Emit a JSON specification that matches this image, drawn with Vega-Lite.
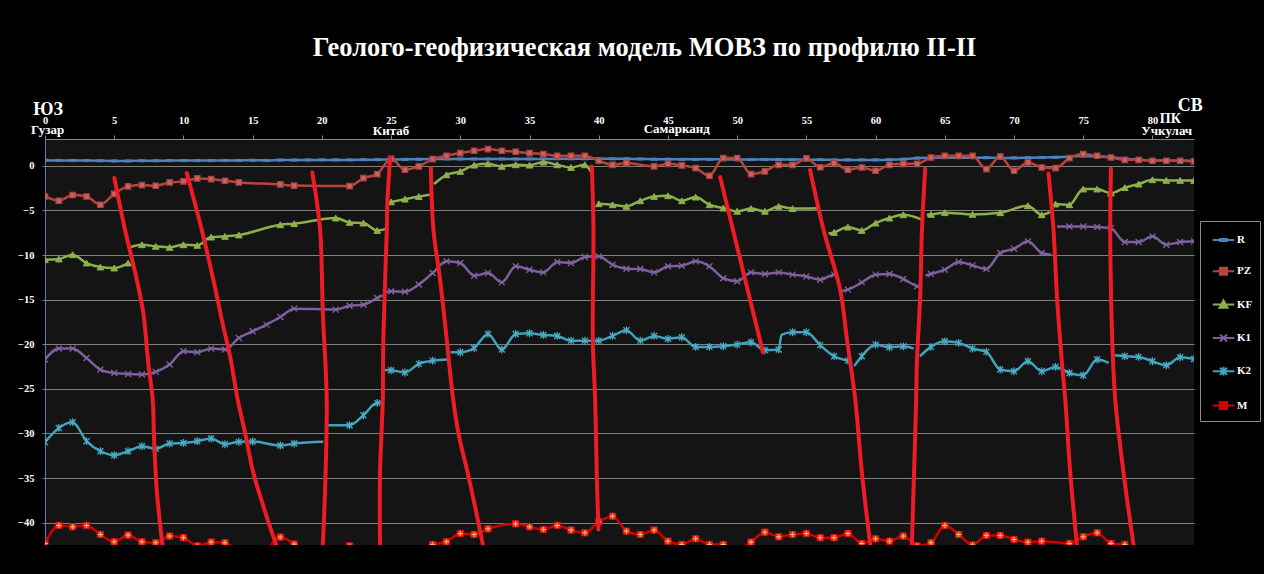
{
  "$schema": "https://vega.github.io/schema/vega-lite/v6.json",
  "width": 1149,
  "height": 406,
  "autosize": {"type": "none"},
  "padding": {"left": 45, "top": 139, "right": 70, "bottom": 29},
  "background": "#000000",
  "title": {
    "text": "Геолого-геофизическая модель МОВЗ по профилю II-II",
    "color": "#FFFFFF",
    "font": "Liberation Serif",
    "fontSize": 26.5,
    "fontWeight": "bold",
    "anchor": "middle",
    "frame": "group",
    "dx": 25,
    "offset": 35
  },
  "config": {
    "view": {"fill": "#141414", "stroke": null},
    "axis": {
      "labelFont": "Liberation Serif",
      "labelFontWeight": "bold",
      "labelColor": "#FFFFFF",
      "labelFontSize": 10.5,
      "labelFlush": false,
      "labelOverlap": false,
      "title": null
    }
  },
  "datasets": {
    "series": [
      {"s":"R","g":1,"x":0,"y":0.62},{"s":"R","g":1,"x":1,"y":0.6},{"s":"R","g":1,"x":2,"y":0.6},{"s":"R","g":1,"x":3,"y":0.58},{"s":"R","g":1,"x":4,"y":0.56},{"s":"R","g":1,"x":5,"y":0.54},{"s":"R","g":1,"x":6,"y":0.54},{"s":"R","g":1,"x":7,"y":0.56},{"s":"R","g":1,"x":8,"y":0.56},{"s":"R","g":1,"x":9,"y":0.58},{"s":"R","g":1,"x":10,"y":0.58},{"s":"R","g":1,"x":11,"y":0.58},{"s":"R","g":1,"x":12,"y":0.58},{"s":"R","g":1,"x":13,"y":0.6},{"s":"R","g":1,"x":14,"y":0.6},{"s":"R","g":1,"x":15,"y":0.62},{"s":"R","g":1,"x":16,"y":0.6},{"s":"R","g":1,"x":17,"y":0.64},{"s":"R","g":1,"x":18,"y":0.64},{"s":"R","g":1,"x":19,"y":0.66},{"s":"R","g":1,"x":20,"y":0.66},{"s":"R","g":1,"x":21,"y":0.66},{"s":"R","g":1,"x":22,"y":0.66},{"s":"R","g":1,"x":23,"y":0.68},{"s":"R","g":1,"x":24,"y":0.68},{"s":"R","g":1,"x":25,"y":0.7},{"s":"R","g":1,"x":26,"y":0.72},{"s":"R","g":1,"x":27,"y":0.74},{"s":"R","g":1,"x":28,"y":0.75},{"s":"R","g":1,"x":29,"y":0.76},{"s":"R","g":1,"x":30,"y":0.76},{"s":"R","g":1,"x":31,"y":0.76},{"s":"R","g":1,"x":32,"y":0.76},{"s":"R","g":1,"x":33,"y":0.76},{"s":"R","g":1,"x":34,"y":0.76},{"s":"R","g":1,"x":35,"y":0.76},{"s":"R","g":1,"x":36,"y":0.76},{"s":"R","g":1,"x":37,"y":0.78},{"s":"R","g":1,"x":38,"y":0.78},{"s":"R","g":1,"x":39,"y":0.78},{"s":"R","g":1,"x":40,"y":0.8},{"s":"R","g":1,"x":41,"y":0.78},{"s":"R","g":1,"x":42,"y":0.78},{"s":"R","g":1,"x":43,"y":0.76},{"s":"R","g":1,"x":44,"y":0.74},{"s":"R","g":1,"x":45,"y":0.74},{"s":"R","g":1,"x":46,"y":0.72},{"s":"R","g":1,"x":47,"y":0.72},{"s":"R","g":1,"x":48,"y":0.72},{"s":"R","g":1,"x":49,"y":0.72},{"s":"R","g":1,"x":50,"y":0.7},{"s":"R","g":1,"x":51,"y":0.7},{"s":"R","g":1,"x":52,"y":0.7},{"s":"R","g":1,"x":53,"y":0.7},{"s":"R","g":1,"x":54,"y":0.7},{"s":"R","g":1,"x":55,"y":0.68},{"s":"R","g":1,"x":56,"y":0.68},{"s":"R","g":1,"x":57,"y":0.66},{"s":"R","g":1,"x":58,"y":0.66},{"s":"R","g":1,"x":59,"y":0.66},{"s":"R","g":1,"x":60,"y":0.66},{"s":"R","g":1,"x":61,"y":0.68},{"s":"R","g":1,"x":62,"y":0.74},{"s":"R","g":1,"x":63,"y":0.86},{"s":"R","g":1,"x":64,"y":0.9},{"s":"R","g":1,"x":65,"y":0.9},{"s":"R","g":1,"x":66,"y":0.9},{"s":"R","g":1,"x":67,"y":0.9},{"s":"R","g":1,"x":68,"y":0.9},{"s":"R","g":1,"x":69,"y":0.88},{"s":"R","g":1,"x":70,"y":0.88},{"s":"R","g":1,"x":71,"y":0.9},{"s":"R","g":1,"x":72,"y":0.92},{"s":"R","g":1,"x":73,"y":0.96},{"s":"R","g":1,"x":74,"y":1.02},{"s":"R","g":1,"x":75,"y":1.1},{"s":"R","g":1,"x":76,"y":1.04},{"s":"R","g":1,"x":77,"y":0.95},{"s":"R","g":1,"x":78,"y":0.8},{"s":"R","g":1,"x":79,"y":0.68},{"s":"R","g":1,"x":80,"y":0.6},{"s":"R","g":1,"x":81,"y":0.58},{"s":"R","g":1,"x":82,"y":0.56},{"s":"R","g":1,"x":83,"y":0.54},

      {"s":"PZ","g":1,"x":0,"y":-3.44},{"s":"PZ","g":1,"x":1,"y":-3.92},{"s":"PZ","g":1,"x":2,"y":-3.28},{"s":"PZ","g":1,"x":3,"y":-3.44},{"s":"PZ","g":1,"x":4,"y":-4.37},{"s":"PZ","g":1,"x":5,"y":-3.14},{"s":"PZ","g":1,"x":6,"y":-2.31},{"s":"PZ","g":1,"x":7,"y":-2.16},{"s":"PZ","g":1,"x":8,"y":-2.24},{"s":"PZ","g":1,"x":9,"y":-1.87},{"s":"PZ","g":1,"x":10,"y":-1.75},{"s":"PZ","g":1,"x":11,"y":-1.42},{"s":"PZ","g":1,"x":12,"y":-1.49},{"s":"PZ","g":1,"x":13,"y":-1.68},{"s":"PZ","g":1,"x":14,"y":-1.87},{"s":"PZ","g":1,"x":17,"y":-2.09},{"s":"PZ","g":1,"x":18,"y":-2.22},{"s":"PZ","g":1,"x":22,"y":-2.28},{"s":"PZ","g":1,"x":23,"y":-1.38},{"s":"PZ","g":1,"x":24,"y":-0.93},{"s":"PZ","g":1,"x":25,"y":0.78},{"s":"PZ","g":1,"x":26,"y":-0.45},{"s":"PZ","g":1,"x":27,"y":-0.07},{"s":"PZ","g":1,"x":28,"y":0.75},{"s":"PZ","g":1,"x":29,"y":1.12},{"s":"PZ","g":1,"x":30,"y":1.42},{"s":"PZ","g":1,"x":31,"y":1.68},{"s":"PZ","g":1,"x":32,"y":1.87},{"s":"PZ","g":1,"x":33,"y":1.68},{"s":"PZ","g":1,"x":34,"y":1.57},{"s":"PZ","g":1,"x":35,"y":1.42},{"s":"PZ","g":1,"x":36,"y":1.31},{"s":"PZ","g":1,"x":37,"y":1.12},{"s":"PZ","g":1,"x":38,"y":1.12},{"s":"PZ","g":1,"x":39,"y":1.12},{"s":"PZ","g":1,"x":40,"y":0.56},{"s":"PZ","g":1,"x":41,"y":0.11},{"s":"PZ","g":1,"x":42,"y":0.3},{"s":"PZ","g":1,"x":44,"y":-0.07},{"s":"PZ","g":1,"x":45,"y":0.22},{"s":"PZ","g":1,"x":46,"y":0.04},{"s":"PZ","g":1,"x":47,"y":-0.26},{"s":"PZ","g":1,"x":48,"y":-1.12},{"s":"PZ","g":1,"x":49,"y":0.86},{"s":"PZ","g":1,"x":50,"y":0.86},{"s":"PZ","g":1,"x":51,"y":-0.93},{"s":"PZ","g":1,"x":52,"y":-0.63},{"s":"PZ","g":1,"x":53,"y":0.11},{"s":"PZ","g":1,"x":54,"y":0.11},{"s":"PZ","g":1,"x":55,"y":0.82},{"s":"PZ","g":1,"x":56,"y":-0.17},{"s":"PZ","g":1,"x":57,"y":0.3},{"s":"PZ","g":1,"x":58,"y":-0.45},{"s":"PZ","g":1,"x":59,"y":-0.19},{"s":"PZ","g":1,"x":60,"y":-0.56},{"s":"PZ","g":1,"x":61,"y":0.11},{"s":"PZ","g":1,"x":62,"y":0.22},{"s":"PZ","g":1,"x":63,"y":0.22},{"s":"PZ","g":1,"x":64,"y":0.93},{"s":"PZ","g":1,"x":65,"y":1.12},{"s":"PZ","g":1,"x":66,"y":1.12},{"s":"PZ","g":1,"x":67,"y":1.12},{"s":"PZ","g":1,"x":68,"y":-0.37},{"s":"PZ","g":1,"x":69,"y":1.04},{"s":"PZ","g":1,"x":70,"y":-0.56},{"s":"PZ","g":1,"x":71,"y":0.37},{"s":"PZ","g":1,"x":72,"y":-0.19},{"s":"PZ","g":1,"x":73,"y":-0.26},{"s":"PZ","g":1,"x":74,"y":0.86},{"s":"PZ","g":1,"x":75,"y":1.31},{"s":"PZ","g":1,"x":76,"y":1.12},{"s":"PZ","g":1,"x":77,"y":0.93},{"s":"PZ","g":1,"x":78,"y":0.67},{"s":"PZ","g":1,"x":79,"y":0.67},{"s":"PZ","g":1,"x":80,"y":0.56},{"s":"PZ","g":1,"x":81,"y":0.56},{"s":"PZ","g":1,"x":82,"y":0.56},{"s":"PZ","g":1,"x":83,"y":0.49},

      {"s":"KF","g":1,"x":0,"y":-10.53},{"s":"KF","g":1,"x":1,"y":-10.45},{"s":"KF","g":1,"x":2,"y":-9.97},{"s":"KF","g":1,"x":3,"y":-10.9},{"s":"KF","g":1,"x":4,"y":-11.35},{"s":"KF","g":1,"x":5,"y":-11.46},{"s":"KF","g":1,"x":6,"y":-10.9},
      {"s":"KF","g":2,"x":6.2,"y":-9.1},{"s":"KF","g":2,"x":7,"y":-8.85},{"s":"KF","g":2,"x":8,"y":-9.03},{"s":"KF","g":2,"x":9,"y":-9.14},{"s":"KF","g":2,"x":10,"y":-8.85},{"s":"KF","g":2,"x":11,"y":-8.92},{"s":"KF","g":2,"x":12,"y":-7.99},{"s":"KF","g":2,"x":13,"y":-7.91},{"s":"KF","g":2,"x":14,"y":-7.76},{"s":"KF","g":2,"x":17,"y":-6.61},{"s":"KF","g":2,"x":18,"y":-6.49},{"s":"KF","g":2,"x":21,"y":-5.86},{"s":"KF","g":2,"x":22,"y":-6.35},{"s":"KF","g":2,"x":23,"y":-6.42},{"s":"KF","g":2,"x":24,"y":-7.25},{"s":"KF","g":2,"x":24.6,"y":-7.1},
      {"s":"KF","g":3,"x":25,"y":-4.05},{"s":"KF","g":3,"x":26,"y":-3.74},{"s":"KF","g":3,"x":27,"y":-3.45},{"s":"KF","g":3,"x":27.8,"y":-3.25},
      {"s":"KF","g":4,"x":28.1,"y":-2.05},{"s":"KF","g":4,"x":29,"y":-1.01},{"s":"KF","g":4,"x":30,"y":-0.63},{"s":"KF","g":4,"x":31,"y":0.07},{"s":"KF","g":4,"x":32,"y":0.22},{"s":"KF","g":4,"x":33,"y":-0.07},{"s":"KF","g":4,"x":34,"y":0.11},{"s":"KF","g":4,"x":35,"y":0.07},{"s":"KF","g":4,"x":36,"y":0.41},{"s":"KF","g":4,"x":37,"y":0.11},{"s":"KF","g":4,"x":38,"y":-0.19},{"s":"KF","g":4,"x":39,"y":0.11},{"s":"KF","g":4,"x":39.45,"y":-0.7},
      {"s":"KF","g":5,"x":40,"y":-4.26},{"s":"KF","g":5,"x":41,"y":-4.37},{"s":"KF","g":5,"x":42,"y":-4.55},{"s":"KF","g":5,"x":43,"y":-3.92},{"s":"KF","g":5,"x":44,"y":-3.44},{"s":"KF","g":5,"x":45,"y":-3.36},{"s":"KF","g":5,"x":46,"y":-3.92},{"s":"KF","g":5,"x":47,"y":-3.51},{"s":"KF","g":5,"x":48,"y":-4.37},{"s":"KF","g":5,"x":49,"y":-4.74},{"s":"KF","g":5,"x":50,"y":-5.1},{"s":"KF","g":5,"x":51,"y":-4.8},{"s":"KF","g":5,"x":52,"y":-5.1},{"s":"KF","g":5,"x":53,"y":-4.55},{"s":"KF","g":5,"x":54,"y":-4.8},{"s":"KF","g":5,"x":55.8,"y":-4.75},
      {"s":"KF","g":6,"x":56.6,"y":-7.6},{"s":"KF","g":6,"x":57,"y":-7.47},{"s":"KF","g":6,"x":58,"y":-6.87},{"s":"KF","g":6,"x":59,"y":-7.25},{"s":"KF","g":6,"x":60,"y":-6.42},{"s":"KF","g":6,"x":61,"y":-5.86},{"s":"KF","g":6,"x":62,"y":-5.49},{"s":"KF","g":6,"x":63.3,"y":-6.0},
      {"s":"KF","g":7,"x":63.7,"y":-5.5},{"s":"KF","g":7,"x":64,"y":-5.45},{"s":"KF","g":7,"x":65,"y":-5.26},{"s":"KF","g":7,"x":67,"y":-5.45},{"s":"KF","g":7,"x":69,"y":-5.26},{"s":"KF","g":7,"x":71,"y":-4.48},{"s":"KF","g":7,"x":72,"y":-5.49},{"s":"KF","g":7,"x":72.6,"y":-5.2},
      {"s":"KF","g":8,"x":72.9,"y":-4.3},{"s":"KF","g":8,"x":73,"y":-4.29},{"s":"KF","g":8,"x":74,"y":-4.37},{"s":"KF","g":8,"x":75,"y":-2.61},{"s":"KF","g":8,"x":76,"y":-2.61},{"s":"KF","g":8,"x":77,"y":-3.06},{"s":"KF","g":8,"x":78,"y":-2.45},{"s":"KF","g":8,"x":79,"y":-2.05},{"s":"KF","g":8,"x":80,"y":-1.57},{"s":"KF","g":8,"x":81,"y":-1.64},{"s":"KF","g":8,"x":82,"y":-1.64},{"s":"KF","g":8,"x":83,"y":-1.64},

      {"s":"K1","g":1,"x":0,"y":-21.72},{"s":"K1","g":1,"x":1,"y":-20.49},{"s":"K1","g":1,"x":2,"y":-20.49},{"s":"K1","g":1,"x":3,"y":-21.54},{"s":"K1","g":1,"x":4,"y":-22.84},{"s":"K1","g":1,"x":5,"y":-23.22},{"s":"K1","g":1,"x":6,"y":-23.33},{"s":"K1","g":1,"x":7,"y":-23.4},{"s":"K1","g":1,"x":8,"y":-23.1},{"s":"K1","g":1,"x":9,"y":-22.28},{"s":"K1","g":1,"x":10,"y":-20.79},{"s":"K1","g":1,"x":11,"y":-20.9},{"s":"K1","g":1,"x":12,"y":-20.49},{"s":"K1","g":1,"x":13,"y":-20.6},{"s":"K1","g":1,"x":14,"y":-19.3},{"s":"K1","g":1,"x":15,"y":-18.55},{"s":"K1","g":1,"x":16,"y":-17.8},{"s":"K1","g":1,"x":17,"y":-16.95},{"s":"K1","g":1,"x":18,"y":-16.01},{"s":"K1","g":1,"x":21,"y":-16.12},{"s":"K1","g":1,"x":22,"y":-15.68},{"s":"K1","g":1,"x":23,"y":-15.57},{"s":"K1","g":1,"x":24,"y":-14.82},{"s":"K1","g":1,"x":24.4,"y":-14.5},
      {"s":"K1","g":2,"x":24.6,"y":-14.15},{"s":"K1","g":2,"x":25,"y":-14.07},{"s":"K1","g":2,"x":26,"y":-14.12},{"s":"K1","g":2,"x":27,"y":-13.3},{"s":"K1","g":2,"x":28,"y":-12.02},{"s":"K1","g":2,"x":29,"y":-10.71},{"s":"K1","g":2,"x":30,"y":-10.9},{"s":"K1","g":2,"x":31,"y":-12.32},{"s":"K1","g":2,"x":32,"y":-12.02},{"s":"K1","g":2,"x":33,"y":-13.07},{"s":"K1","g":2,"x":34,"y":-11.27},{"s":"K1","g":2,"x":35,"y":-11.65},{"s":"K1","g":2,"x":36,"y":-11.95},{"s":"K1","g":2,"x":37,"y":-10.79},{"s":"K1","g":2,"x":38,"y":-10.9},{"s":"K1","g":2,"x":39,"y":-10.23},{"s":"K1","g":2,"x":40,"y":-10.15},{"s":"K1","g":2,"x":41,"y":-11.09},{"s":"K1","g":2,"x":42,"y":-11.54},{"s":"K1","g":2,"x":43,"y":-11.57},{"s":"K1","g":2,"x":44,"y":-11.95},{"s":"K1","g":2,"x":45,"y":-11.27},{"s":"K1","g":2,"x":46,"y":-11.2},{"s":"K1","g":2,"x":47,"y":-10.71},{"s":"K1","g":2,"x":48,"y":-11.27},{"s":"K1","g":2,"x":49,"y":-12.6},{"s":"K1","g":2,"x":50,"y":-12.95},{"s":"K1","g":2,"x":51,"y":-11.95},{"s":"K1","g":2,"x":52,"y":-12.13},{"s":"K1","g":2,"x":53,"y":-11.95},{"s":"K1","g":2,"x":54,"y":-12.2},{"s":"K1","g":2,"x":55,"y":-12.4},{"s":"K1","g":2,"x":56,"y":-12.77},{"s":"K1","g":2,"x":57,"y":-12.2},{"s":"K1","g":2,"x":57.2,"y":-12.3},
      {"s":"K1","g":3,"x":57.5,"y":-14.05},{"s":"K1","g":3,"x":58,"y":-13.88},{"s":"K1","g":3,"x":59,"y":-13.07},{"s":"K1","g":3,"x":60,"y":-12.2},{"s":"K1","g":3,"x":61,"y":-12.13},{"s":"K1","g":3,"x":62,"y":-12.69},{"s":"K1","g":3,"x":63,"y":-13.51},{"s":"K1","g":3,"x":63.15,"y":-13.6},
      {"s":"K1","g":4,"x":63.6,"y":-12.3},{"s":"K1","g":4,"x":64,"y":-12.13},{"s":"K1","g":4,"x":65,"y":-11.65},{"s":"K1","g":4,"x":66,"y":-10.79},{"s":"K1","g":4,"x":67,"y":-11.16},{"s":"K1","g":4,"x":68,"y":-11.57},{"s":"K1","g":4,"x":69,"y":-9.78},{"s":"K1","g":4,"x":70,"y":-9.3},{"s":"K1","g":4,"x":71,"y":-8.47},{"s":"K1","g":4,"x":72,"y":-9.78},{"s":"K1","g":4,"x":72.7,"y":-9.97},
      {"s":"K1","g":5,"x":73.1,"y":-6.8},{"s":"K1","g":5,"x":74,"y":-6.8},{"s":"K1","g":5,"x":75,"y":-6.8},{"s":"K1","g":5,"x":76,"y":-6.87},{"s":"K1","g":5,"x":77,"y":-6.99},{"s":"K1","g":5,"x":78,"y":-8.55},{"s":"K1","g":5,"x":79,"y":-8.55},{"s":"K1","g":5,"x":80,"y":-7.91},{"s":"K1","g":5,"x":81,"y":-8.85},{"s":"K1","g":5,"x":82,"y":-8.55},{"s":"K1","g":5,"x":83,"y":-8.47},

      {"s":"K2","g":1,"x":0,"y":-30.98},{"s":"K2","g":1,"x":1,"y":-29.38},{"s":"K2","g":1,"x":2,"y":-28.74},{"s":"K2","g":1,"x":3,"y":-30.87},{"s":"K2","g":1,"x":4,"y":-31.99},{"s":"K2","g":1,"x":5,"y":-32.44},{"s":"K2","g":1,"x":6,"y":-31.99},{"s":"K2","g":1,"x":7,"y":-31.43},{"s":"K2","g":1,"x":8,"y":-31.73},{"s":"K2","g":1,"x":9,"y":-31.13},{"s":"K2","g":1,"x":10,"y":-31.06},{"s":"K2","g":1,"x":11,"y":-30.87},{"s":"K2","g":1,"x":12,"y":-30.57},{"s":"K2","g":1,"x":13,"y":-31.21},{"s":"K2","g":1,"x":14,"y":-30.94},{"s":"K2","g":1,"x":15,"y":-30.9},{"s":"K2","g":1,"x":17,"y":-31.35},{"s":"K2","g":1,"x":18,"y":-31.13},{"s":"K2","g":1,"x":20.1,"y":-30.94},
      {"s":"K2","g":2,"x":20.4,"y":-29.08},{"s":"K2","g":2,"x":22,"y":-29.08},{"s":"K2","g":2,"x":23,"y":-27.96},{"s":"K2","g":2,"x":24,"y":-26.57},{"s":"K2","g":2,"x":24.3,"y":-26.57},
      {"s":"K2","g":3,"x":24.5,"y":-22.9},{"s":"K2","g":3,"x":25,"y":-22.92},{"s":"K2","g":3,"x":26,"y":-23.17},{"s":"K2","g":3,"x":27,"y":-22.2},{"s":"K2","g":3,"x":28,"y":-21.84},{"s":"K2","g":3,"x":29.1,"y":-21.7},
      {"s":"K2","g":4,"x":29.3,"y":-20.9},{"s":"K2","g":4,"x":30,"y":-20.9},{"s":"K2","g":4,"x":31,"y":-20.42},{"s":"K2","g":4,"x":32,"y":-18.85},{"s":"K2","g":4,"x":33,"y":-20.6},{"s":"K2","g":4,"x":34,"y":-18.85},{"s":"K2","g":4,"x":35,"y":-18.77},{"s":"K2","g":4,"x":36,"y":-18.96},{"s":"K2","g":4,"x":37,"y":-19.07},{"s":"K2","g":4,"x":38,"y":-19.6},{"s":"K2","g":4,"x":39,"y":-19.6},{"s":"K2","g":4,"x":40,"y":-19.6},{"s":"K2","g":4,"x":41,"y":-19.07},{"s":"K2","g":4,"x":42,"y":-18.44},{"s":"K2","g":4,"x":43,"y":-19.6},{"s":"K2","g":4,"x":44,"y":-19.07},{"s":"K2","g":4,"x":45,"y":-19.4},{"s":"K2","g":4,"x":46,"y":-19.22},{"s":"K2","g":4,"x":47,"y":-20.3},{"s":"K2","g":4,"x":48,"y":-20.3},{"s":"K2","g":4,"x":49,"y":-20.23},{"s":"K2","g":4,"x":50,"y":-20.04},{"s":"K2","g":4,"x":51,"y":-19.78},{"s":"K2","g":4,"x":52,"y":-20.68},{"s":"K2","g":4,"x":53,"y":-20.6},{"s":"K2","g":4,"x":53.2,"y":-18.95},{"s":"K2","g":4,"x":54,"y":-18.66},{"s":"K2","g":4,"x":55,"y":-18.66},{"s":"K2","g":4,"x":56,"y":-20.1},{"s":"K2","g":4,"x":57,"y":-21.35},{"s":"K2","g":4,"x":58,"y":-21.84},{"s":"K2","g":4,"x":58.2,"y":-21.9},
      {"s":"K2","g":5,"x":58.45,"y":-22.45},{"s":"K2","g":5,"x":59,"y":-21.35},{"s":"K2","g":5,"x":60,"y":-20.04},{"s":"K2","g":5,"x":61,"y":-20.34},{"s":"K2","g":5,"x":62,"y":-20.23},{"s":"K2","g":5,"x":62.75,"y":-20.49},
      {"s":"K2","g":6,"x":63.2,"y":-21.35},{"s":"K2","g":6,"x":64,"y":-20.3},{"s":"K2","g":6,"x":65,"y":-19.67},{"s":"K2","g":6,"x":66,"y":-19.85},{"s":"K2","g":6,"x":67,"y":-20.49},{"s":"K2","g":6,"x":68,"y":-20.86},{"s":"K2","g":6,"x":69,"y":-22.84},{"s":"K2","g":6,"x":70,"y":-23.03},{"s":"K2","g":6,"x":71,"y":-21.91},{"s":"K2","g":6,"x":72,"y":-23.03},{"s":"K2","g":6,"x":73,"y":-22.54},{"s":"K2","g":6,"x":74,"y":-23.22},{"s":"K2","g":6,"x":75,"y":-23.48},{"s":"K2","g":6,"x":76,"y":-21.72},{"s":"K2","g":6,"x":76.85,"y":-22.1},
      {"s":"K2","g":7,"x":77.3,"y":-21.24},{"s":"K2","g":7,"x":78,"y":-21.35},{"s":"K2","g":7,"x":79,"y":-21.42},{"s":"K2","g":7,"x":80,"y":-21.91},{"s":"K2","g":7,"x":81,"y":-22.36},{"s":"K2","g":7,"x":82,"y":-21.46},{"s":"K2","g":7,"x":83,"y":-21.65},

      {"s":"M","g":1,"x":0,"y":-42.33},{"s":"M","g":1,"x":1,"y":-40.31},{"s":"M","g":1,"x":2,"y":-40.46},{"s":"M","g":1,"x":3,"y":-40.31},{"s":"M","g":1,"x":4,"y":-41.32},{"s":"M","g":1,"x":5,"y":-42.14},{"s":"M","g":1,"x":6,"y":-41.39},{"s":"M","g":1,"x":7,"y":-42.14},{"s":"M","g":1,"x":8,"y":-42.25},{"s":"M","g":1,"x":9,"y":-41.5},{"s":"M","g":1,"x":10,"y":-41.68},{"s":"M","g":1,"x":11,"y":-42.6},{"s":"M","g":1,"x":12,"y":-42.18},{"s":"M","g":1,"x":13,"y":-42.25},{"s":"M","g":1,"x":14,"y":-43.2},{"s":"M","g":1,"x":15,"y":-43.5},{"s":"M","g":1,"x":16,"y":-43.0},{"s":"M","g":1,"x":17,"y":-41.61},{"s":"M","g":1,"x":18,"y":-42.4},{"s":"M","g":1,"x":19,"y":-43.3},{"s":"M","g":1,"x":20,"y":-43.6},{"s":"M","g":1,"x":21,"y":-43.2},{"s":"M","g":1,"x":22,"y":-42.6},{"s":"M","g":1,"x":23,"y":-43.3},{"s":"M","g":1,"x":24,"y":-43.6},{"s":"M","g":1,"x":25,"y":-43.5},{"s":"M","g":1,"x":26,"y":-43.4},{"s":"M","g":1,"x":27,"y":-43.0},{"s":"M","g":1,"x":28,"y":-42.44},{"s":"M","g":1,"x":29,"y":-42.14},{"s":"M","g":1,"x":30,"y":-41.21},{"s":"M","g":1,"x":31,"y":-41.32},{"s":"M","g":1,"x":32,"y":-40.69},{"s":"M","g":1,"x":34,"y":-40.13},{"s":"M","g":1,"x":35,"y":-40.46},{"s":"M","g":1,"x":36,"y":-40.76},{"s":"M","g":1,"x":37,"y":-40.31},{"s":"M","g":1,"x":38,"y":-40.83},{"s":"M","g":1,"x":39,"y":-41.13},{"s":"M","g":1,"x":40,"y":-39.9},{"s":"M","g":1,"x":41,"y":-39.27},{"s":"M","g":1,"x":42,"y":-40.94},{"s":"M","g":1,"x":43,"y":-41.32},{"s":"M","g":1,"x":44,"y":-40.83},{"s":"M","g":1,"x":45,"y":-42.07},{"s":"M","g":1,"x":46,"y":-42.44},{"s":"M","g":1,"x":47,"y":-41.8},{"s":"M","g":1,"x":48,"y":-42.44},{"s":"M","g":1,"x":49,"y":-42.44},{"s":"M","g":1,"x":50,"y":-43.0},{"s":"M","g":1,"x":51,"y":-42.18},{"s":"M","g":1,"x":52,"y":-41.06},{"s":"M","g":1,"x":53,"y":-41.58},{"s":"M","g":1,"x":54,"y":-41.32},{"s":"M","g":1,"x":55,"y":-41.21},{"s":"M","g":1,"x":56,"y":-41.68},{"s":"M","g":1,"x":57,"y":-41.68},{"s":"M","g":1,"x":58,"y":-41.21},{"s":"M","g":1,"x":59,"y":-42.33},{"s":"M","g":1,"x":60,"y":-41.8},{"s":"M","g":1,"x":61,"y":-42.07},{"s":"M","g":1,"x":62,"y":-41.5},{"s":"M","g":1,"x":63,"y":-42.6},{"s":"M","g":1,"x":64,"y":-42.25},{"s":"M","g":1,"x":65,"y":-40.31},{"s":"M","g":1,"x":66,"y":-41.32},{"s":"M","g":1,"x":67,"y":-42.5},{"s":"M","g":1,"x":68,"y":-41.43},{"s":"M","g":1,"x":69,"y":-41.43},{"s":"M","g":1,"x":70,"y":-41.88},{"s":"M","g":1,"x":71,"y":-42.18},{"s":"M","g":1,"x":72,"y":-42.07},{"s":"M","g":1,"x":74,"y":-42.33},{"s":"M","g":1,"x":75,"y":-41.58},{"s":"M","g":1,"x":76,"y":-41.13},{"s":"M","g":1,"x":77,"y":-42.33},{"s":"M","g":1,"x":78,"y":-42.44},{"s":"M","g":1,"x":79,"y":-43.2},{"s":"M","g":1,"x":80,"y":-43.5},{"s":"M","g":1,"x":81,"y":-43.3},{"s":"M","g":1,"x":82,"y":-43.4},{"s":"M","g":1,"x":83,"y":-43.5}
    ],
    "faults": [
      {"f":1,"x":5.01,"y":-1.38},{"f":1,"x":5.78,"y":-7.17},{"f":1,"x":6.63,"y":-12.77},{"f":1,"x":7.1,"y":-16.5},{"f":1,"x":7.46,"y":-22.1},{"f":1,"x":7.78,"y":-26.2},{"f":1,"x":7.88,"y":-30.68},{"f":1,"x":8.07,"y":-36.28},{"f":1,"x":8.48,"y":-42.47},
      {"f":2,"x":10.24,"y":-0.82},{"f":2,"x":11.32,"y":-7.17},{"f":2,"x":12.16,"y":-12.77},{"f":2,"x":12.77,"y":-17.25},{"f":2,"x":13.37,"y":-21.35},{"f":2,"x":13.92,"y":-26.2},{"f":2,"x":14.45,"y":-29.93},{"f":2,"x":15.05,"y":-34.41},{"f":2,"x":15.77,"y":-38.15},{"f":2,"x":16.69,"y":-42.47},
      {"f":3,"x":19.31,"y":-0.75},{"f":3,"x":19.87,"y":-7.17},{"f":3,"x":20.07,"y":-16.5},{"f":3,"x":20.35,"y":-26.2},{"f":3,"x":20.23,"y":-36.28},{"f":3,"x":20.07,"y":-42.47},
      {"f":4,"x":24.93,"y":0.86},{"f":4,"x":24.73,"y":-4.18},{"f":4,"x":24.69,"y":-7.17},{"f":4,"x":24.44,"y":-19.48},{"f":4,"x":24.4,"y":-26.2},{"f":4,"x":24.2,"y":-34.41},{"f":4,"x":24.2,"y":-42.47},
      {"f":5,"x":27.87,"y":-0.26},{"f":5,"x":28.06,"y":-7.17},{"f":5,"x":28.54,"y":-12.77},{"f":5,"x":29.02,"y":-19.48},{"f":5,"x":29.44,"y":-25.64},{"f":5,"x":29.86,"y":-29.93},{"f":5,"x":30.59,"y":-34.79},{"f":5,"x":31.31,"y":-40.01},{"f":5,"x":31.63,"y":-42.47},
      {"f":6,"x":39.5,"y":-0.08},{"f":6,"x":39.62,"y":-7.17},{"f":6,"x":39.57,"y":-19.48},{"f":6,"x":39.74,"y":-26.2},{"f":6,"x":39.86,"y":-34.79},{"f":6,"x":39.98,"y":-40.76},
      {"f":7,"x":48.77,"y":-1.27},{"f":7,"x":50.3,"y":-11.0},{"f":7,"x":51.86,"y":-20.9},
      {"f":8,"x":55.27,"y":-0.48},{"f":8,"x":56.24,"y":-7.17},{"f":8,"x":57.44,"y":-13.89},{"f":8,"x":57.93,"y":-19.48},{"f":8,"x":58.53,"y":-26.2},{"f":8,"x":59.01,"y":-34.41},{"f":8,"x":59.61,"y":-42.47},
      {"f":9,"x":63.58,"y":-0.34},{"f":9,"x":63.35,"y":-7.17},{"f":9,"x":63.22,"y":-14.64},{"f":9,"x":62.98,"y":-22.1},{"f":9,"x":62.93,"y":-26.2},{"f":9,"x":62.74,"y":-36.28},{"f":9,"x":62.62,"y":-42.47},
      {"f":10,"x":72.49,"y":-0.9},{"f":10,"x":72.85,"y":-7.17},{"f":10,"x":73.1,"y":-14.64},{"f":10,"x":73.46,"y":-22.1},{"f":10,"x":73.7,"y":-26.2},{"f":10,"x":74.06,"y":-34.41},{"f":10,"x":74.54,"y":-42.47},
      {"f":11,"x":77.0,"y":-0.34},{"f":11,"x":76.95,"y":-7.17},{"f":11,"x":77.07,"y":-18.37},{"f":11,"x":77.31,"y":-26.2},{"f":11,"x":77.91,"y":-34.41},{"f":11,"x":78.63,"y":-42.47}
    ],
    "labels": [
      {"t":"ЮЗ","k":"dir","x":0.22,"y":5.71},
      {"t":"СВ","k":"dir","x":82.73,"y":6.16},
      {"t":"ПК","k":"pk","x":81.29,"y":4.78},
      {"t":"Гузар","k":"place","x":0.18,"y":3.52},
      {"t":"Китаб","k":"place","x":25.0,"y":3.45},
      {"t":"Самарканд","k":"place","x":45.64,"y":3.7},
      {"t":"Учкулач","k":"place","x":81.03,"y":3.42}
    ]
  },
  "encoding": {
    "x": {
      "field": "x",
      "type": "quantitative",
      "scale": {"domain": [0, 83], "nice": false, "zero": false},
      "axis": {
        "orient": "top",
        "values": [0, 5, 10, 15, 20, 25, 30, 35, 40, 45, 50, 55, 60, 65, 70, 75, 80],
        "grid": false,
        "domainColor": "#868686",
        "tickColor": "#868686",
        "tickSize": 4,
        "labelPadding": 10
      }
    },
    "y": {
      "field": "y",
      "type": "quantitative",
      "scale": {"domain": [-42.5, 3], "nice": false, "zero": false},
      "axis": {
        "values": [0, -5, -10, -15, -20, -25, -30, -35, -40],
        "grid": true,
        "gridColor": "#7F7F7F",
        "gridWidth": 1,
        "domainColor": "#4F81BD",
        "tickColor": "#7F7F7F",
        "tickSize": 3,
        "labelPadding": 8
      }
    }
  },
  "layer": [
    {
      "data": {"name": "series"},
      "mark": {"type": "line", "interpolate": "monotone", "strokeWidth": 2.5, "clip": true},
      "encoding": {
        "color": {
          "field": "s",
          "type": "nominal",
          "scale": {
            "domain": ["R", "PZ", "KF", "K1", "K2", "M"],
            "range": ["#4F81BD", "#B54541", "#8DB04D", "#7D5FA0", "#3FA3BC", "#D00000"]
          },
          "legend": {
            "orient": "none",
            "legendX": 1155,
            "legendY": 82,
            "title": null,
            "fillColor": "#000000",
            "strokeColor": "#8C8C8C",
            "padding": 7,
            "symbolSize": 484,
            "rowPadding": 13.3,
            "labelOffset": 6,
            "labelFont": "Liberation Serif",
            "labelFontWeight": "bold",
            "labelFontSize": 11,
            "labelColor": "#FFFFFF",
            "encode": {
              "symbols": {
                "update": {
                  "shape": {"signal": "datum.value == 'R' ? 'M-0.57,0H1.39M0.09,-0.1H0.73V0.1H0.09Z' : datum.value == 'PZ' ? 'M-0.57,0H1.39M0.09,-0.32H0.73V0.32H0.09Z' : datum.value == 'KF' ? 'M-0.57,0H1.39M0.41,-0.38L0.77,0.28L0.05,0.28Z' : datum.value == 'K1' ? 'M-0.57,0H1.39M0.09,-0.32L0.73,0.32M0.09,0.32L0.73,-0.32' : datum.value == 'K2' ? 'M-0.57,0H1.39M0.09,-0.32L0.73,0.32M0.09,0.32L0.73,-0.32M0.41,-0.4V0.4' : 'M-0.57,0H1.39M0.09,-0.32H0.73V0.32H0.09Z'"},
                  "fill": {"scale": "color", "field": "value"},
                  "stroke": {"scale": "color", "field": "value"},
                  "strokeWidth": {"value": 2},
                  "size": {"value": 484},
                  "opacity": {"value": 1}
                }
              }
            }
          }
        },
        "detail": {"field": "g"}
      }
    },
    {
      "data": {"name": "series"},
      "transform": [{"filter": "datum.s == 'R' && floor(datum.x) == datum.x"}],
      "mark": {"type": "point", "shape": "M-1,-0.32H1V0.32H-1Z", "size": 40, "filled": true, "fill": "#4F81BD", "stroke": "#4F81BD", "strokeWidth": 1, "opacity": 1, "clip": true},
      "encoding": {}
    },
    {
      "data": {"name": "series"},
      "transform": [{"filter": "datum.s == 'PZ' && floor(datum.x) == datum.x"}],
      "mark": {"type": "point", "shape": "square", "size": 30, "filled": true, "fill": "#C9625E", "stroke": "#A9413D", "strokeWidth": 1.2, "opacity": 1, "clip": true},
      "encoding": {}
    },
    {
      "data": {"name": "series"},
      "transform": [{"filter": "datum.s == 'KF' && floor(datum.x) == datum.x"}],
      "mark": {"type": "point", "shape": "triangle-up", "size": 45, "filled": true, "fill": "#8DB04D", "stroke": "#8DB04D", "strokeWidth": 1, "opacity": 1, "clip": true},
      "encoding": {}
    },
    {
      "data": {"name": "series"},
      "transform": [{"filter": "datum.s == 'K1' && floor(datum.x) == datum.x"}],
      "mark": {"type": "point", "shape": "M-1,-1L1,1M-1,1L1,-1", "size": 36, "filled": false, "stroke": "#8064A2", "strokeWidth": 1.3, "opacity": 1, "clip": true},
      "encoding": {}
    },
    {
      "data": {"name": "series"},
      "transform": [{"filter": "datum.s == 'K2' && floor(datum.x) == datum.x"}],
      "mark": {"type": "point", "shape": "M-1,-1L1,1M-1,1L1,-1M0,-1.3V1.3", "size": 36, "filled": false, "stroke": "#4BACC6", "strokeWidth": 1.3, "opacity": 1, "clip": true},
      "encoding": {}
    },
    {
      "data": {"name": "series"},
      "transform": [{"filter": "datum.s == 'M' && floor(datum.x) == datum.x"}],
      "mark": {"type": "point", "shape": "square", "size": 40, "filled": true, "fill": "#F22A22", "stroke": "#D01010", "strokeWidth": 1, "opacity": 1, "clip": true},
      "encoding": {}
    },
    {
      "data": {"name": "series"},
      "transform": [{"filter": "datum.s == 'M' && floor(datum.x) == datum.x"}],
      "mark": {"type": "point", "shape": "M-1,0H1M0,-1V1", "size": 30, "stroke": "#F6C36A", "strokeWidth": 1, "filled": false, "opacity": 1, "clip": true},
      "encoding": {}
    },
    {
      "data": {"name": "faults"},
      "mark": {"type": "line", "interpolate": "catmull-rom", "strokeWidth": 4, "color": "#EE1C25", "strokeCap": "round", "clip": true},
      "encoding": {
        "detail": {"field": "f"},
        "order": {"field": "y", "sort": "descending"}
      }
    },
    {
      "data": {"name": "labels"},
      "transform": [{"filter": "datum.k == 'dir'"}],
      "mark": {"type": "text", "font": "Liberation Serif", "fontWeight": "bold", "fontSize": 18, "color": "#FFFFFF", "align": "center", "baseline": "alphabetic", "clip": false},
      "encoding": {"text": {"field": "t"}}
    },
    {
      "data": {"name": "labels"},
      "transform": [{"filter": "datum.k == 'pk'"}],
      "mark": {"type": "text", "font": "Liberation Serif", "fontWeight": "bold", "fontSize": 14, "color": "#FFFFFF", "align": "center", "baseline": "alphabetic", "clip": false},
      "encoding": {"text": {"field": "t"}}
    },
    {
      "data": {"name": "labels"},
      "transform": [{"filter": "datum.k == 'place'"}],
      "mark": {"type": "text", "font": "Liberation Serif", "fontWeight": "bold", "fontSize": 13, "color": "#FFFFFF", "align": "center", "baseline": "alphabetic", "clip": false},
      "encoding": {"text": {"field": "t"}}
    }
  ]
}
